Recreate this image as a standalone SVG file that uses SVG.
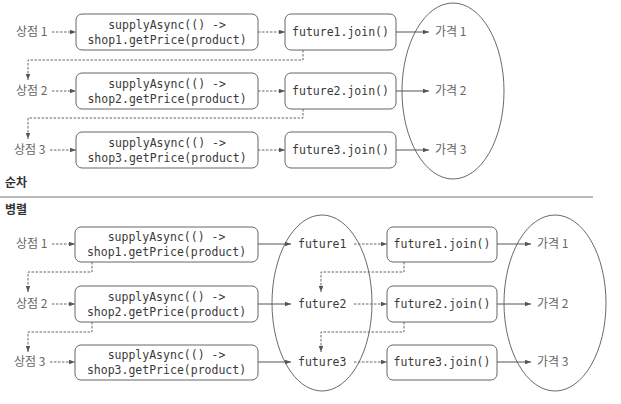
<svg xmlns="http://www.w3.org/2000/svg" width="621" height="404" viewBox="0 0 621 404">
<defs>
<marker id="ah" viewBox="0 0 8 6" refX="8" refY="3" markerWidth="6" markerHeight="4.5" orient="auto" markerUnits="userSpaceOnUse"><path d="M0,0 L8,3 L0,6 Z" fill="#555"/></marker>
</defs>
<style>
.box{fill:#fff;stroke:#666;stroke-width:1}
.code{font-family:"DejaVu Sans Mono","Liberation Mono",monospace;font-size:11.5px;fill:#3a3a3a;text-anchor:middle}
.code2{font-family:"DejaVu Sans Mono","Liberation Mono",monospace;font-size:11.5px;fill:#3a3a3a}
.lbl{font-family:"Noto Sans CJK KR","Noto Sans",sans-serif;font-size:12px;fill:#666}
.ttl{font-family:"Noto Sans CJK KR","Noto Sans",sans-serif;font-size:12px;font-weight:bold;fill:#333}
.sol{fill:none;stroke:#555;stroke-width:1}
.dsh{fill:none;stroke:#666;stroke-width:1;stroke-dasharray:2.5 1.5}
.ell{fill:none;stroke:#444;stroke-width:0.8}
</style>
<rect width="621" height="404" fill="#fff"/>
<g id="section-seq">
<text class="ttl" x="5" y="187">순차</text>
</g>
<line x1="0" y1="197" x2="593" y2="197" stroke="#777" stroke-width="1.2"/>
<g id="section-par">
<text class="ttl" x="5" y="214">병렬</text>
</g>
<g id="ellipses">
<ellipse class="ell" cx="453" cy="91" rx="51" ry="88"/>
<ellipse class="ell" cx="322" cy="303" rx="50" ry="88"/>
<ellipse class="ell" cx="555" cy="303" rx="51" ry="88"/>
</g>
<g id="labels-seq">
<text class="lbl" x="16" y="36">상점 1</text>
<text class="lbl" x="16" y="95">상점 2</text>
<text class="lbl" x="14" y="154">상점 3</text>
<text class="lbl" x="435" y="36">가격 1</text>
<text class="lbl" x="435" y="95">가격 2</text>
<text class="lbl" x="435" y="154">가격 3</text>
</g>
<g id="labels-par">
<text class="lbl" x="16" y="248">상점 1</text>
<text class="lbl" x="16" y="308">상점 2</text>
<text class="lbl" x="14" y="366">상점 3</text>
<text class="code2" x="298" y="248">future1</text>
<text class="code2" x="298" y="308">future2</text>
<text class="code2" x="298" y="366">future3</text>
<text class="lbl" x="537" y="248">가격 1</text>
<text class="lbl" x="537" y="308">가격 2</text>
<text class="lbl" x="537" y="366">가격 3</text>
</g>
<g id="seq-supply1"><rect class="box" x="76" y="14" width="182" height="36" rx="6"/><text class="code" x="167" y="29">supplyAsync(() -&gt;</text><text class="code" x="167" y="44">shop1.getPrice(product)</text></g>
<g id="seq-supply2"><rect class="box" x="76" y="73" width="182" height="36" rx="6"/><text class="code" x="167" y="88">supplyAsync(() -&gt;</text><text class="code" x="167" y="103">shop2.getPrice(product)</text></g>
<g id="seq-supply3"><rect class="box" x="76" y="132" width="182" height="36" rx="6"/><text class="code" x="167" y="147">supplyAsync(() -&gt;</text><text class="code" x="167" y="162">shop3.getPrice(product)</text></g>
<g id="seq-join1"><rect class="box" x="285" y="14" width="111" height="36" rx="6"/><text class="code" x="340.5" y="36">future1.join()</text></g>
<g id="seq-join2"><rect class="box" x="285" y="73" width="111" height="36" rx="6"/><text class="code" x="340.5" y="95">future2.join()</text></g>
<g id="seq-join3"><rect class="box" x="285" y="132" width="111" height="36" rx="6"/><text class="code" x="340.5" y="154">future3.join()</text></g>
<g id="par-supply1"><rect class="box" x="75" y="227" width="183" height="35" rx="6"/><text class="code" x="166.5" y="241">supplyAsync(() -&gt;</text><text class="code" x="166.5" y="256">shop1.getPrice(product)</text></g>
<g id="par-supply2"><rect class="box" x="75" y="286" width="183" height="36" rx="6"/><text class="code" x="166.5" y="301">supplyAsync(() -&gt;</text><text class="code" x="166.5" y="316">shop2.getPrice(product)</text></g>
<g id="par-supply3"><rect class="box" x="75" y="345" width="183" height="35" rx="6"/><text class="code" x="166.5" y="359">supplyAsync(() -&gt;</text><text class="code" x="166.5" y="374">shop3.getPrice(product)</text></g>
<g id="par-join1"><rect class="box" x="387" y="227" width="110" height="35" rx="6"/><text class="code" x="442" y="248">future1.join()</text></g>
<g id="par-join2"><rect class="box" x="387" y="286" width="110" height="36" rx="6"/><text class="code" x="442" y="308">future2.join()</text></g>
<g id="par-join3"><rect class="box" x="387" y="345" width="110" height="35" rx="6"/><text class="code" x="442" y="366">future3.join()</text></g>
<g id="connectors">
<line class="dsh" x1="52" y1="32" x2="76" y2="32" marker-end="url(#ah)"/>
<line class="dsh" x1="52" y1="91" x2="76" y2="91" marker-end="url(#ah)"/>
<line class="dsh" x1="50" y1="150" x2="76" y2="150" marker-end="url(#ah)"/>
<line class="dsh" x1="258" y1="32" x2="285" y2="32" marker-end="url(#ah)"/>
<line class="dsh" x1="258" y1="91" x2="285" y2="91" marker-end="url(#ah)"/>
<line class="dsh" x1="258" y1="150" x2="285" y2="150" marker-end="url(#ah)"/>
<line class="sol" x1="396" y1="32" x2="429" y2="32" marker-end="url(#ah)"/>
<line class="sol" x1="396" y1="91" x2="429" y2="91" marker-end="url(#ah)"/>
<line class="sol" x1="396" y1="150" x2="429" y2="150" marker-end="url(#ah)"/>
<polyline class="dsh" points="303,50 303,60 28,60 28,80" marker-end="url(#ah)"/>
<polyline class="dsh" points="303,109 303,118 28,118 28,139" marker-end="url(#ah)"/>
<line class="dsh" x1="52" y1="244" x2="75" y2="244" marker-end="url(#ah)"/>
<line class="dsh" x1="52" y1="304" x2="75" y2="304" marker-end="url(#ah)"/>
<line class="dsh" x1="50" y1="362" x2="75" y2="362" marker-end="url(#ah)"/>
<line class="sol" x1="258" y1="244" x2="291" y2="244" marker-end="url(#ah)"/>
<line class="sol" x1="258" y1="304" x2="291" y2="304" marker-end="url(#ah)"/>
<line class="sol" x1="258" y1="362" x2="291" y2="362" marker-end="url(#ah)"/>
<polyline class="dsh" points="92,262 92,272 28,272 28,292" marker-end="url(#ah)"/>
<polyline class="dsh" points="92,322 92,332 28,332 28,352" marker-end="url(#ah)"/>
<line class="dsh" x1="354" y1="244" x2="387" y2="244" marker-end="url(#ah)"/>
<line class="dsh" x1="354" y1="304" x2="387" y2="304" marker-end="url(#ah)"/>
<line class="dsh" x1="354" y1="362" x2="387" y2="362" marker-end="url(#ah)"/>
<line class="sol" x1="497" y1="244" x2="531" y2="244" marker-end="url(#ah)"/>
<line class="sol" x1="497" y1="304" x2="531" y2="304" marker-end="url(#ah)"/>
<line class="sol" x1="497" y1="362" x2="531" y2="362" marker-end="url(#ah)"/>
<polyline class="dsh" points="404,262 404,272 321,272 321,292" marker-end="url(#ah)"/>
<polyline class="dsh" points="404,322 404,332 321,332 321,352" marker-end="url(#ah)"/>
</g>
</svg>
